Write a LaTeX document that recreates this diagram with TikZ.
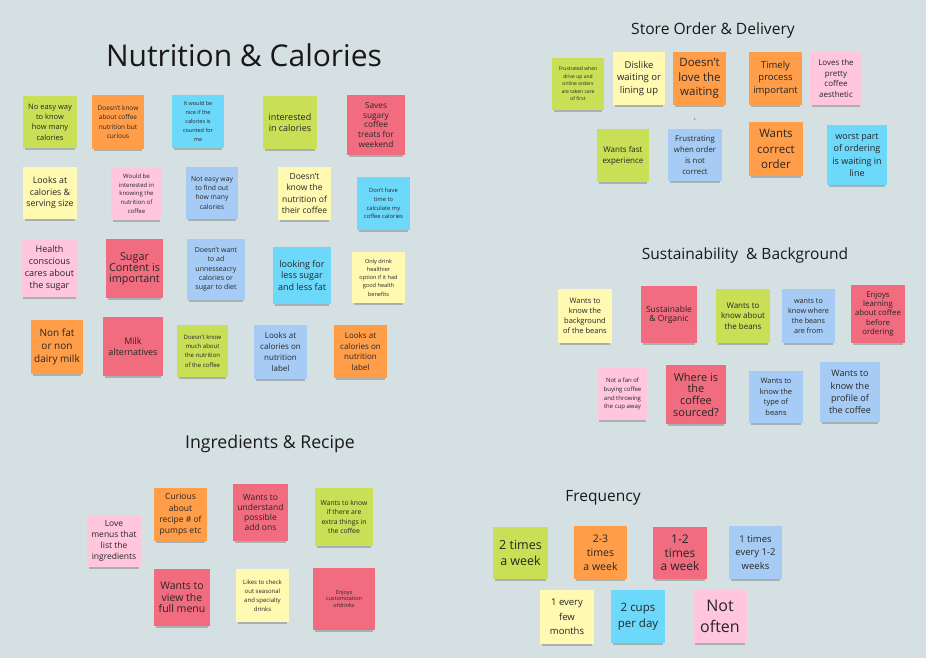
\documentclass[tikz,border=0pt]{standalone}
\usepackage{fontspec}
\setmainfont{Open Sans}
\usepackage{xcolor}
\usepackage{tikz}
\usetikzlibrary{shadows}

\definecolor{boardbg}{HTML}{D5E0E3}
\definecolor{stlime}{HTML}{C9DF56}
\definecolor{storange}{HTML}{FF9D48}
\definecolor{stcyan}{HTML}{6CD8FA}
\definecolor{stblue}{HTML}{A6CCF5}
\definecolor{stred}{HTML}{F16C7F}
\definecolor{stpink}{HTML}{FFC6DC}
\definecolor{styellow}{HTML}{FFF9B1}

\begin{document}
\begin{tikzpicture}[
    x=1pt, y=-1pt,
    note/.style={rectangle, inner sep=1pt, align=center, text=black!85,
        drop shadow={shadow xshift=0pt, shadow yshift=-4pt, shadow scale=0.94, opacity=0.32, fill=black!70}},
    sz/.style 2 args={minimum width=#1, minimum height=#2},
    fs/.style 2 args={font=\fontsize{#1}{#2}\selectfont},
    limenote/.style={note, fill=stlime},
    orangenote/.style={note, fill=storange},
    cyannote/.style={note, fill=stcyan},
    bluenote/.style={note, fill=stblue},
    rednote/.style={note, fill=stred},
    pinknote/.style={note, fill=stpink},
    yellownote/.style={note, fill=styellow},
    boardtitle/.style={text=black!90, inner sep=0pt}
]

% --- Board ---
\fill[boardbg] (0,0) rectangle (926,658);
\useasboundingbox (0,0) rectangle (926,658);

% --- Titles ---
\node[boardtitle, fs={30}{34}] (tnutri) at (244,55) {Nutrition \& Calories};
\node[boardtitle, fs={17.7}{20}] (tingred) at (270,444) {Ingredients \& Recipe};
\node[boardtitle, fs={15.6}{18}] (tstore) at (713,30) {Store Order \& Delivery};
\node[boardtitle, fs={15.5}{18}] (tsustain) at (745,255) {Sustainability\ \ \& Background};
\node[boardtitle, fs={15.5}{18}] (tfreq) at (603,498) {Frequency};

% --- Nutrition & Calories ---
\node[limenote, sz={54}{52}, fs={7.5}{10.3}] (nut1) at (50,122) {No easy way\\to know\\how many\\calories};
\node[orangenote, sz={52}{54}, fs={6.5}{9.4}] (nut2) at (118,122) {Doesn't know\\about coffee\\nutrition but\\curious};
\node[cyannote, sz={52}{53}, fs={5.5}{8.8}] (nut3) at (198,121.5) {It would be\\nice if the\\calories is\\counted for\\me};
\node[limenote, sz={54}{53}, fs={9}{11.7}] (nut4) at (290,122.5) {interested\\in calories};
\node[rednote, sz={58}{60}, fs={8.3}{9.8}] (nut5) at (376,125) {Saves\\sugary\\coffee\\treats for\\weekend};

\node[yellownote, sz={54}{52}, fs={8.8}{11.3}] (nut6) at (50,193) {Looks at\\calories \&\\serving size};
\node[pinknote, sz={51}{53}, fs={6}{8.7}] (nut7) at (136.5,193.5) {Would be\\interested in\\knowing the\\nutrition of\\coffee};
\node[bluenote, sz={52}{52}, fs={6.8}{9.2}] (nut8) at (212,193) {Not easy way\\to find out\\how many\\calories};
\node[yellownote, sz={53}{53}, fs={8.5}{11.1}] (nut9) at (304.5,193.5) {Doesn't\\know the\\nutrition of\\their coffee};
\node[cyannote, sz={53}{53}, fs={5.8}{8.7}] (nut10) at (383.5,203.5) {Don't have\\time to\\calculate my\\coffee calories};

\node[pinknote, sz={57}{57}, fs={9}{12}] (nut11) at (49.5,268.5) {Health\\conscious\\cares about\\the sugar};
\node[rednote, sz={57}{59}, fs={10.8}{11}] (nut12) at (134.5,268.5) {Sugar\\Content is\\important};
\node[bluenote, sz={58}{61}, fs={7}{9.4}] (nut13) at (216,269.5) {Doesn't want\\to ad\\unnesseacry\\calories or\\sugar to diet};
\node[cyannote, sz={58}{57}, fs={9}{11.3}] (nut14) at (302,275.5) {looking for\\less sugar\\and less fat};
\node[yellownote, sz={53}{51}, fs={5.6}{8.3}] (nut15) at (378.5,277.5) {Only drink\\healthier\\option if it had\\good health\\benefits};

\node[orangenote, sz={52}{54}, fs={10}{13.3}] (nut16) at (57,347) {Non fat\\or non\\dairy milk};
\node[rednote, sz={60}{59}, fs={9}{10.7}] (nut17) at (133,346.5) {Milk\\alternatives};
\node[limenote, sz={51}{52}, fs={6}{9.2}] (nut18) at (202.5,351) {Doesn't know\\much about\\the nutrition\\of the coffee};
\node[bluenote, sz={53}{54}, fs={8}{10.8}] (nut19) at (280.5,352) {Looks at\\calories on\\nutrition\\label};
\node[orangenote, sz={53}{53}, fs={8}{10.8}] (nut20) at (360.5,351.5) {Looks at\\calories on\\nutrition\\label};

% --- Ingredients & Recipe ---
\node[pinknote, sz={54}{52}, fs={8.5}{11.1}] (ing1) at (114,541) {Love\\menus that\\list the\\ingredients};
\node[orangenote, sz={53}{53}, fs={8.5}{11.1}] (ing2) at (180.5,514.5) {Curious\\about\\recipe \# of\\pumps etc};
\node[rednote, sz={55}{57}, fs={8.5}{9.7}] (ing3) at (260.5,512.5) {Wants to\\understand\\possible\\add ons};
\node[limenote, sz={58}{58}, fs={6.8}{9.4}] (ing4) at (344,517) {Wants to know\\if there are\\extra things in\\the coffee};
\node[rednote, sz={56}{57}, fs={10.5}{11.5}] (ing5) at (182,597.5) {Wants to\\view the\\full menu};
\node[yellownote, sz={53}{53}, fs={6}{8.9}] (ing6) at (262.5,595.5) {Likes to check\\out seasonal\\and specialty\\drinks};
\node[rednote, sz={62}{62}, fs={5.5}{6.7}] (ing7) at (344,599) {Enjoys\\customization\\ofdrinks};

% --- Store Order & Delivery ---
\node[limenote, sz={52}{52}, fs={5}{7.5}] (sto1) at (578,84) {Frustrated when\\drive up and\\online orders\\are taken care\\of first};
\node[yellownote, sz={52}{53}, fs={9.5}{12.5}] (sto2) at (639,78.5) {Dislike\\waiting or\\lining up};
\node[orangenote, sz={53}{53}, fs={11.5}{14.7}] (sto3) at (699.5,78.5) {Doesn't\\love the\\waiting};
\node[orangenote, sz={53}{53}, fs={9.5}{12.2}] (sto4) at (775.5,78.5) {Timely\\process\\important};
\node[pinknote, sz={52}{53}, fs={8}{10.8}] (sto5) at (836,78.5) {Loves the\\pretty\\coffee\\aesthetic};
\node[limenote, sz={52}{53}, fs={8}{11}] (sto6) at (623,155.5) {Wants fast\\experience};
\node[bluenote, sz={54}{52}, fs={7.8}{10.9}] (sto7) at (695,155) {Frustrating\\when order\\is not\\correct};
\node[orangenote, sz={54}{54}, fs={11.5}{15.5}] (sto8) at (776,149) {Wants\\correct\\order};
\node[cyannote, sz={60}{60}, fs={9}{12.3}] (sto9) at (857,155) {worst part\\of ordering\\is waiting in\\line};
\node[inner sep=0pt, fs={6}{6}] (stomark) at (695,120) {,};

% --- Sustainability & Background ---
\node[yellownote, sz={54}{54}, fs={7.5}{10.2}] (sus1) at (585,316) {Wants to\\know the\\background\\of the beans};
\node[rednote, sz={56}{57}, fs={8.5}{9}] (sus2) at (669,314.5) {Sustainable\\\& Organic};
\node[limenote, sz={54}{54}, fs={8}{10.8}] (sus3) at (743,316) {Wants to\\know about\\the beans};
\node[bluenote, sz={53}{54}, fs={7.2}{10.2}] (sus4) at (808.5,316) {wants to\\know where\\the beans\\are from};
\node[rednote, sz={54}{58}, fs={7.8}{9.2}] (sus5) at (878,314) {Enjoys\\learning\\about coffee\\before\\ordering};
\node[pinknote, sz={49}{52}, fs={6}{8.9}] (sus6) at (622.5,394) {Not a fan of\\buying coffee\\and throwing\\the cup away};
\node[rednote, sz={60}{59}, fs={11}{11.7}] (sus7) at (696,394.5) {Where is\\the\\coffee\\sourced?};
\node[bluenote, sz={54}{52}, fs={7.5}{10.5}] (sus8) at (776,397) {Wants to\\know the\\type of\\beans};
\node[bluenote, sz={60}{60}, fs={9}{12.2}] (sus9) at (850,392) {Wants to\\know the\\profile of\\the coffee};

% --- Frequency ---
\node[limenote, sz={55}{52}, fs={12.5}{16}] (frq1) at (520.5,553) {2 times\\a week};
\node[orangenote, sz={53}{53}, fs={10.5}{14.2}] (frq2) at (600.5,552.5) {2-3\\times\\a week};
\node[rednote, sz={54}{52}, fs={12}{13.3}] (frq3) at (680,553) {1-2\\times\\a week};
\node[bluenote, sz={53}{53}, fs={9.5}{13.7}] (frq4) at (755.5,552.5) {1 times\\every 1-2\\weeks};
\node[yellownote, sz={54}{54}, fs={9.5}{14.5}] (frq5) at (567,617) {1 every\\few\\months};
\node[cyannote, sz={54}{53}, fs={11.5}{15.7}] (frq6) at (638,616.5) {2 cups\\per day};
\node[pinknote, sz={54}{53}, fs={16}{21.7}] (frq7) at (720,616.5) {Not\\often};

\end{tikzpicture}
\end{document}
